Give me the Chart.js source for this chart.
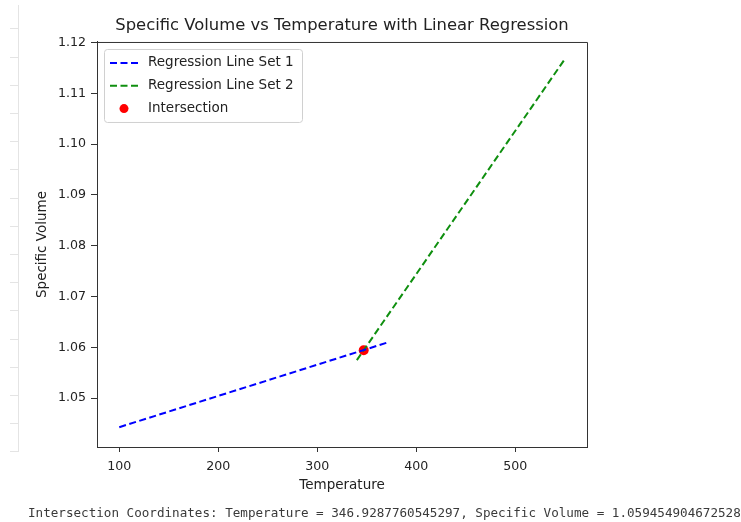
<!DOCTYPE html>
<html>
<head>
<meta charset="utf-8">
<script src="https://cdn.jsdelivr.net/npm/chart.js@4/dist/chart.umd.min.js"></script>
<style>
  html, body { margin: 0; padding: 0; background: #fff; }
  #wrap { position: relative; width: 741px; height: 522px; overflow: hidden; }
  #gutter {
    position: absolute; left: 10px; top: 5px; width: 8px; height: 447px;
    border-right: 1px solid #e4e4e4;
    background: repeating-linear-gradient(to bottom, transparent 0px, transparent 23.5px, #e4e4e4 23.5px, #e4e4e4 24.5px, transparent 24.5px, transparent 28.2px);
  }
  #result {
    position: absolute; left: 28px; top: 505px; white-space: nowrap;
    font-family: "DejaVu Sans Mono", monospace; font-size: 12.6px; color: #3a3a3a;
  }
</style>
</head>
<body>
<div id="wrap">
  <div id="gutter"></div>
  <canvas id="regChart" width="741" height="522"></canvas>
  <div id="result"></div>
</div>
<script>
// regression line endpoints (temperature, specific volume)
const temps1 = [100, 370];
const vols1 = [1.0443, 1.0609];
const temps2 = [340, 550];
const vols2 = [1.0575, 1.1167];
// where the two fitted lines cross
const crossTemp = [346.9287760545297];
const crossVol = [1.059454904672528];

const xTicks = [100, 200, 300, 400, 500];
const yTicks = [1.05, 1.06, 1.07, 1.08, 1.09, 1.10, 1.11, 1.12];

function toPoints(xs, ys) {
  return xs.map((x, i) => ({ x: x, y: ys[i] }));
}

document.getElementById('result').textContent =
  'Intersection Coordinates: Temperature = ' + crossTemp[0] +
  ', Specific Volume = ' + crossVol[0];

const tickFont = { family: 'DejaVu Sans', size: 12.6 };
const labelFont = { family: 'DejaVu Sans', size: 13.5 };

// legend box drawn inside the plot, top-left corner
const innerLegend = {
  id: 'innerLegend',
  afterDraw(chart) {
    const ctx = chart.ctx;
    const area = chart.chartArea;
    const x0 = area.left + 7, y0 = area.top + 7;
    const w = 198, h = 73;
    ctx.save();
    ctx.fillStyle = 'rgba(255,255,255,0.8)';
    ctx.strokeStyle = '#d0d0d0';
    ctx.lineWidth = 1;
    ctx.beginPath();
    ctx.roundRect(x0 + 0.5, y0 + 0.5, w, h, 3);
    ctx.fill();
    ctx.stroke();
    ctx.font = '13.5px "DejaVu Sans"';
    ctx.textBaseline = 'middle';
    chart.data.datasets.forEach((ds, i) => {
      const cy = y0 + 14 + i * 22.8;
      if (ds.showLine) {
        ctx.strokeStyle = ds.borderColor;
        ctx.lineWidth = 2;
        ctx.setLineDash(ds.borderDash);
        ctx.beginPath();
        ctx.moveTo(x0 + 6, cy);
        ctx.lineTo(x0 + 34, cy);
        ctx.stroke();
        ctx.setLineDash([]);
      } else {
        ctx.fillStyle = ds.pointBackgroundColor;
        ctx.beginPath();
        ctx.arc(x0 + 20, cy, 4.5, 0, Math.PI * 2);
        ctx.fill();
      }
      ctx.fillStyle = '#222';
      ctx.fillText(ds.label, x0 + 44, cy);
    });
    ctx.restore();
  }
};

// top and right spines
const frame = {
  id: 'frame',
  afterDatasetsDraw(chart) {
    const a = chart.chartArea;
    const ctx = chart.ctx;
    ctx.save();
    ctx.strokeStyle = '#333';
    ctx.lineWidth = 1;
    ctx.beginPath();
    ctx.moveTo(a.left, a.top + 0.5);
    ctx.lineTo(a.right + 0.5, a.top + 0.5);
    ctx.lineTo(a.right + 0.5, a.bottom);
    ctx.stroke();
    ctx.restore();
  }
};

new Chart(document.getElementById('regChart'), {
  type: 'scatter',
  data: {
    datasets: [
      {
        label: 'Regression Line Set 1',
        data: toPoints(temps1, vols1),
        showLine: true,
        borderColor: '#0000ff',
        borderWidth: 2,
        borderDash: [7, 3.5],
        pointRadius: 0
      },
      {
        label: 'Regression Line Set 2',
        data: toPoints(temps2, vols2),
        showLine: true,
        borderColor: '#0f8f0f',
        borderWidth: 2,
        borderDash: [7, 3.5],
        pointRadius: 0
      },
      {
        label: 'Intersection',
        data: toPoints(crossTemp, crossVol),
        showLine: false,
        pointRadius: 5,
        pointBackgroundColor: '#ff0000',
        pointBorderColor: '#ff0000',
        pointBorderWidth: 0
      }
    ]
  },
  options: {
    responsive: false,
    animation: false,
    layout: { padding: { left: 0, right: 154, top: 0, bottom: 25 } },
    plugins: {
      legend: { display: false },
      tooltip: { enabled: false },
      title: {
        display: true,
        fullSize: false,
        text: 'Specific Volume vs Temperature with Linear Regression',
        color: '#222',
        font: { family: 'DejaVu Sans', size: 16.4, weight: 'normal', lineHeight: 1.2 },
        padding: { top: 16, bottom: 6.3 }
      }
    },
    scales: {
      x: {
        type: 'linear',
        min: 77.5,
        max: 572.5,
        afterFit(scale) { scale.height = 50; },
        afterBuildTicks(scale) { scale.ticks = xTicks.map(v => ({ value: v })); },
        ticks: { color: '#222', font: tickFont, padding: 7 },
        grid: { drawOnChartArea: false, tickLength: 5, color: '#333' },
        border: { color: '#333', width: 1 },
        title: {
          display: true,
          text: 'Temperature',
          color: '#222',
          font: labelFont,
          padding: { top: 0, bottom: 3.6 }
        }
      },
      y: {
        type: 'linear',
        min: 1.0404,
        max: 1.1201,
        afterFit(scale) { scale.width = 97; },
        afterBuildTicks(scale) { scale.ticks = yTicks.map(v => ({ value: v })); },
        ticks: {
          color: '#222',
          font: tickFont,
          padding: 5,
          callback: v => v.toFixed(2)
        },
        grid: { drawOnChartArea: false, tickLength: 6, color: '#333' },
        border: { color: '#333', width: 1 },
        title: {
          display: true,
          text: 'Specific Volume',
          color: '#222',
          font: labelFont,
          padding: { top: 34.7, bottom: 0 }
        }
      }
    }
  },
  plugins: [innerLegend, frame]
});
</script>
</body>
</html>
